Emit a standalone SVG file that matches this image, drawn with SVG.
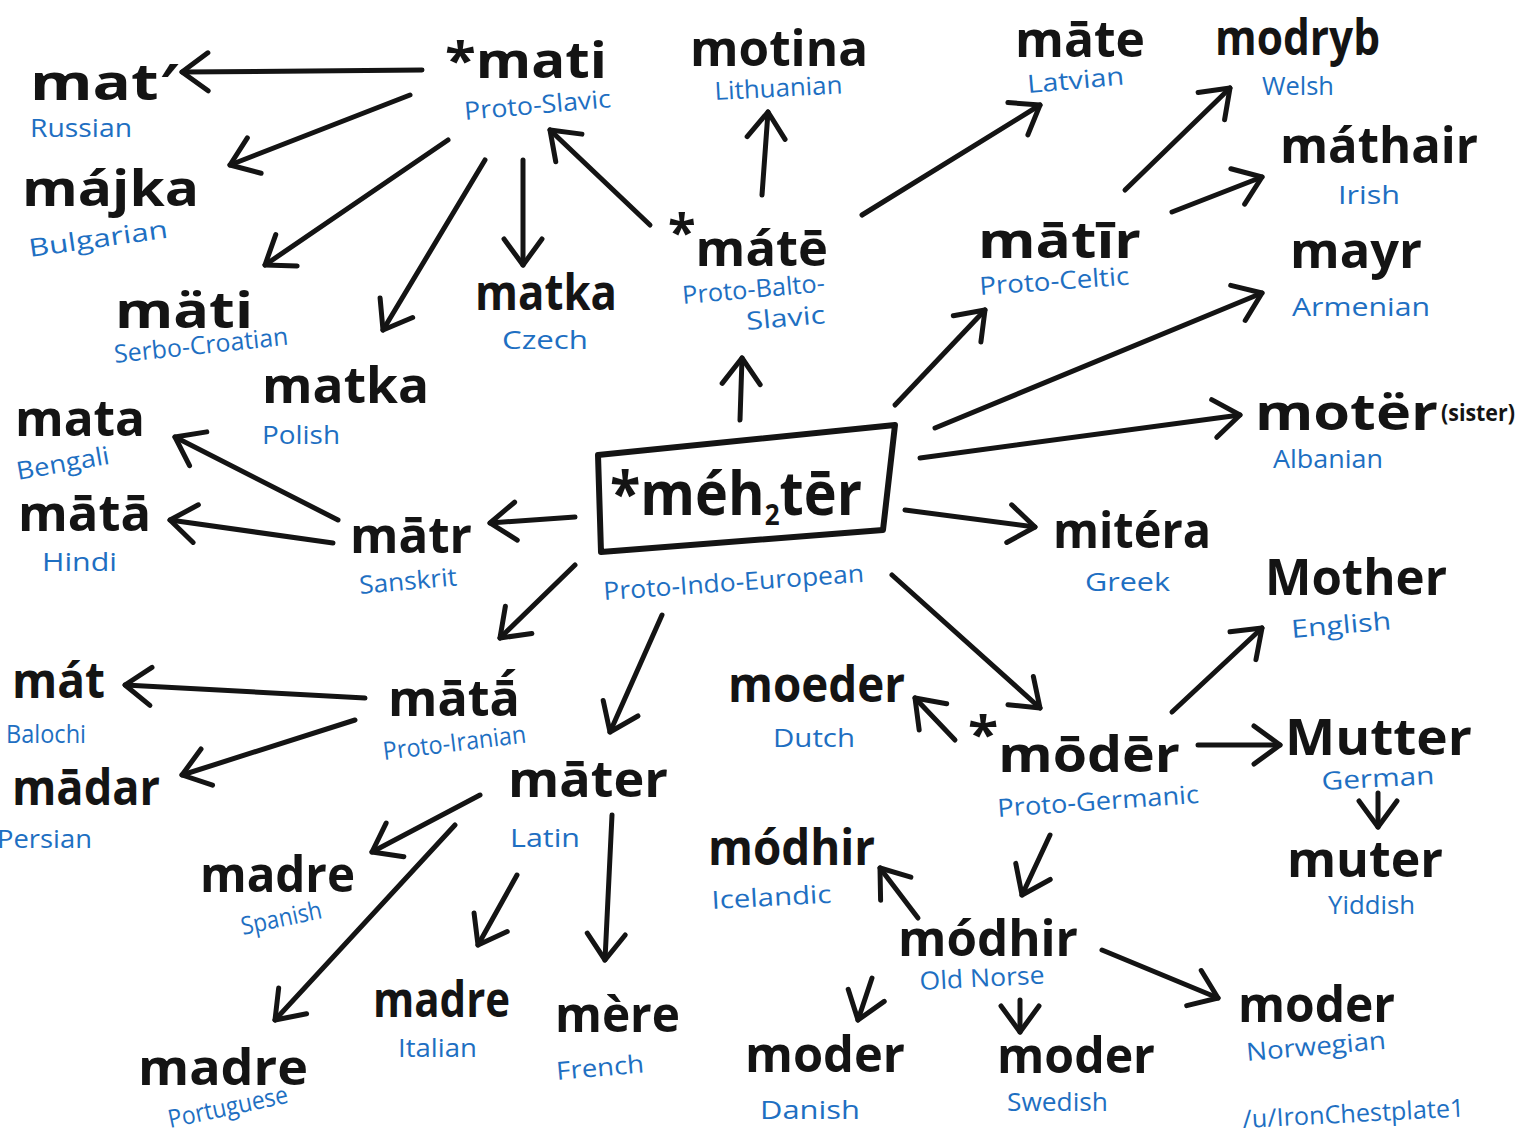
<svg xmlns="http://www.w3.org/2000/svg" width="1524" height="1137" viewBox="0 0 1524 1137">
<defs>
<style>
.w{font-family:"Open Sans","Liberation Sans",sans-serif;font-weight:700;font-size:50px;fill:#141414}
.l{font-family:"Open Sans","Liberation Sans",sans-serif;font-weight:400;font-size:25px;fill:#1e6fc2}
.c{fill:none;stroke:#141414;stroke-width:5;stroke-linecap:round;stroke-linejoin:round}
.box{fill:none;stroke:#141414;stroke-width:6;stroke-linejoin:round}
</style>
<marker id="ah" markerUnits="userSpaceOnUse" markerWidth="44" markerHeight="44" viewBox="0 0 44 44" refX="34" refY="22" orient="auto">
<path d="M8,3 L34,22 L8,41" fill="none" stroke="#141414" stroke-width="5" stroke-linecap="round" stroke-linejoin="round"/>
</marker>
</defs>
<rect width="1524" height="1137" fill="#ffffff"/>

<g id="connectors" class="c" marker-end="url(#ah)">
<line x1="422" y1="70" x2="182" y2="72"/>
<line x1="410" y1="95" x2="230" y2="165"/>
<line x1="448" y1="140" x2="265" y2="265"/>
<line x1="485" y1="160" x2="383" y2="330"/>
<line x1="523" y1="160" x2="523" y2="265"/>
<line x1="650" y1="225" x2="550" y2="130"/>
<line x1="762" y1="195" x2="768" y2="112"/>
<line x1="862" y1="215" x2="1040" y2="105"/>
<line x1="740" y1="420" x2="742" y2="358"/>
<line x1="895" y1="405" x2="985" y2="310"/>
<line x1="1125" y1="190" x2="1230" y2="88"/>
<line x1="1172" y1="212" x2="1262" y2="177"/>
<line x1="935" y1="428" x2="1262" y2="293"/>
<line x1="920" y1="458" x2="1240" y2="415"/>
<line x1="905" y1="510" x2="1035" y2="527"/>
<line x1="575" y1="517" x2="490" y2="523"/>
<line x1="338" y1="520" x2="175" y2="437"/>
<line x1="333" y1="543" x2="170" y2="520"/>
<line x1="575" y1="565" x2="500" y2="638"/>
<line x1="662" y1="615" x2="610" y2="732"/>
<line x1="892" y1="575" x2="1040" y2="708"/>
<line x1="955" y1="740" x2="915" y2="698"/>
<line x1="1172" y1="712" x2="1262" y2="628"/>
<line x1="1198" y1="745" x2="1280" y2="745"/>
<line x1="1378" y1="793" x2="1378" y2="827"/>
<line x1="1050" y1="835" x2="1022" y2="895"/>
<line x1="918" y1="918" x2="880" y2="868"/>
<line x1="872" y1="978" x2="858" y2="1020"/>
<line x1="1020" y1="1000" x2="1020" y2="1032"/>
<line x1="1102" y1="950" x2="1218" y2="998"/>
<line x1="365" y1="698" x2="125" y2="685"/>
<line x1="355" y1="720" x2="182" y2="775"/>
<line x1="480" y1="795" x2="372" y2="852"/>
<line x1="455" y1="825" x2="275" y2="1020"/>
<line x1="517" y1="875" x2="478" y2="945"/>
<line x1="612" y1="815" x2="605" y2="960"/>
</g>

<g id="pie">
<polygon class="box" points="598,455 895,425 883,530 601,552"/>
<text class="w" x="610" y="515" style="font-size:60px" textLength="252" lengthAdjust="spacingAndGlyphs">*méh<tspan style="font-size:28px" dy="10">2</tspan><tspan dy="-10">tēr</tspan></text>
<text class="l" x="604" y="600" textLength="261" lengthAdjust="spacingAndGlyphs" transform="rotate(-4 604 600)">Proto-Indo-European</text>
</g>

<g id="mati"><text class="w" x="445" y="78" textLength="162" lengthAdjust="spacingAndGlyphs">*mati</text><text class="l" x="465" y="120" textLength="147" lengthAdjust="spacingAndGlyphs" transform="rotate(-5 465 120)">Proto-Slavic</text></g>
<g id="mat-russian"><text class="w" x="30" y="100" textLength="148" lengthAdjust="spacingAndGlyphs">mat′</text><text class="l" x="30" y="137" textLength="102" lengthAdjust="spacingAndGlyphs">Russian</text></g>
<g id="majka"><text class="w" x="22" y="206" textLength="177" lengthAdjust="spacingAndGlyphs">májka</text><text class="l" x="30" y="257" textLength="140" lengthAdjust="spacingAndGlyphs" transform="rotate(-8 30 257)">Bulgarian</text></g>
<g id="mati-sc"><text class="w" x="115" y="328" textLength="138" lengthAdjust="spacingAndGlyphs">mäti</text><text class="l" x="115" y="363" textLength="175" lengthAdjust="spacingAndGlyphs" transform="rotate(-6 115 363)">Serbo-Croatian</text></g>
<g id="matka-czech"><text class="w" x="475" y="310" textLength="142" lengthAdjust="spacingAndGlyphs">matka</text><text class="l" x="502" y="349" textLength="86" lengthAdjust="spacingAndGlyphs">Czech</text></g>
<g id="matka-polish"><text class="w" x="262" y="403" textLength="167" lengthAdjust="spacingAndGlyphs">matka</text><text class="l" x="262" y="444" textLength="78" lengthAdjust="spacingAndGlyphs">Polish</text></g>
<g id="mate-pbs"><text class="w" x="668" y="266" textLength="160" lengthAdjust="spacingAndGlyphs"><tspan dy="-16">*</tspan><tspan dy="16">mátē</tspan></text><text class="l" x="683" y="304" textLength="143" lengthAdjust="spacingAndGlyphs" transform="rotate(-5 683 304)">Proto-Balto-</text><text class="l" x="747" y="330" textLength="79" lengthAdjust="spacingAndGlyphs" transform="rotate(-5 747 330)">Slavic</text></g>
<g id="motina"><text class="w" x="690" y="66" textLength="178" lengthAdjust="spacingAndGlyphs">motina</text><text class="l" x="715" y="100" textLength="128" lengthAdjust="spacingAndGlyphs" transform="rotate(-3 715 100)">Lithuanian</text></g>
<g id="mate-latvian"><text class="w" x="1015" y="57" textLength="130" lengthAdjust="spacingAndGlyphs">māte</text><text class="l" x="1028" y="93" textLength="97" lengthAdjust="spacingAndGlyphs" transform="rotate(-5 1028 93)">Latvian</text></g>
<g id="modryb"><text class="w" x="1215" y="55" textLength="165" lengthAdjust="spacingAndGlyphs">modryb</text><text class="l" x="1262" y="95" textLength="72" lengthAdjust="spacingAndGlyphs">Welsh</text></g>
<g id="mathair"><text class="w" x="1280" y="163" textLength="198" lengthAdjust="spacingAndGlyphs">máthair</text><text class="l" x="1338" y="204" textLength="62" lengthAdjust="spacingAndGlyphs">Irish</text></g>
<g id="matir"><text class="w" x="978" y="258" textLength="163" lengthAdjust="spacingAndGlyphs">mātīr</text><text class="l" x="980" y="295" textLength="150" lengthAdjust="spacingAndGlyphs" transform="rotate(-4 980 295)">Proto-Celtic</text></g>
<g id="mayr"><text class="w" x="1290" y="268" textLength="132" lengthAdjust="spacingAndGlyphs">mayr</text><text class="l" x="1292" y="316" textLength="138" lengthAdjust="spacingAndGlyphs">Armenian</text></g>
<g id="moter"><text class="w" x="1255" y="430" textLength="183" lengthAdjust="spacingAndGlyphs">motër</text><text class="w" x="1441" y="421" style="font-size:24px" textLength="74" lengthAdjust="spacingAndGlyphs">(sister)</text><text class="l" x="1273" y="468" textLength="110" lengthAdjust="spacingAndGlyphs">Albanian</text></g>
<g id="mitera"><text class="w" x="1053" y="548" textLength="158" lengthAdjust="spacingAndGlyphs">mitéra</text><text class="l" x="1085" y="591" textLength="85" lengthAdjust="spacingAndGlyphs">Greek</text></g>
<g id="mata-bengali"><text class="w" x="15" y="436" textLength="130" lengthAdjust="spacingAndGlyphs">mata</text><text class="l" x="18" y="480" textLength="94" lengthAdjust="spacingAndGlyphs" transform="rotate(-10 18 480)">Bengali</text></g>
<g id="mata-hindi"><text class="w" x="18" y="531" textLength="133" lengthAdjust="spacingAndGlyphs">mātā</text><text class="l" x="42" y="571" textLength="75" lengthAdjust="spacingAndGlyphs">Hindi</text></g>
<g id="matr"><text class="w" x="350" y="553" textLength="122" lengthAdjust="spacingAndGlyphs">mātr</text><text class="l" x="360" y="594" textLength="98" lengthAdjust="spacingAndGlyphs" transform="rotate(-5 360 594)">Sanskrit</text></g>
<g id="mata-iranian"><text class="w" x="388" y="716" textLength="132" lengthAdjust="spacingAndGlyphs">mātā́</text><text class="l" x="384" y="760" textLength="144" lengthAdjust="spacingAndGlyphs" transform="rotate(-7 384 760)">Proto-Iranian</text></g>
<g id="mat-balochi"><text class="w" x="12" y="698" textLength="93" lengthAdjust="spacingAndGlyphs">mát</text><text class="l" x="6" y="743" textLength="80" lengthAdjust="spacingAndGlyphs">Balochi</text></g>
<g id="madar"><text class="w" x="12" y="805" textLength="148" lengthAdjust="spacingAndGlyphs">mādar</text><text class="l" x="-3" y="848" textLength="95" lengthAdjust="spacingAndGlyphs">Persian</text></g>
<g id="mater"><text class="w" x="508" y="797" textLength="160" lengthAdjust="spacingAndGlyphs">māter</text><text class="l" x="510" y="847" textLength="70" lengthAdjust="spacingAndGlyphs">Latin</text></g>
<g id="madre-spanish"><text class="w" x="200" y="892" textLength="155" lengthAdjust="spacingAndGlyphs">madre</text><text class="l" x="243" y="935" textLength="82" lengthAdjust="spacingAndGlyphs" transform="rotate(-12 243 935)">Spanish</text></g>
<g id="madre-italian"><text class="w" x="373" y="1017" textLength="137" lengthAdjust="spacingAndGlyphs">madre</text><text class="l" x="398" y="1057" textLength="79" lengthAdjust="spacingAndGlyphs">Italian</text></g>
<g id="mere"><text class="w" x="555" y="1032" textLength="125" lengthAdjust="spacingAndGlyphs">mère</text><text class="l" x="557" y="1080" textLength="88" lengthAdjust="spacingAndGlyphs" transform="rotate(-5 557 1080)">French</text></g>
<g id="madre-portuguese"><text class="w" x="138" y="1085" textLength="170" lengthAdjust="spacingAndGlyphs">madre</text><text class="l" x="170" y="1128" textLength="122" lengthAdjust="spacingAndGlyphs" transform="rotate(-12 170 1128)">Portuguese</text></g>
<g id="moeder"><text class="w" x="728" y="702" textLength="177" lengthAdjust="spacingAndGlyphs">moeder</text><text class="l" x="773" y="747" textLength="82" lengthAdjust="spacingAndGlyphs">Dutch</text></g>
<g id="moder-pg"><text class="w" x="968" y="772" textLength="212" lengthAdjust="spacingAndGlyphs"><tspan dy="-20">*</tspan><tspan dy="20">mōdēr</tspan></text><text class="l" x="998" y="817" textLength="202" lengthAdjust="spacingAndGlyphs" transform="rotate(-4 998 817)">Proto-Germanic</text></g>
<g id="mother"><text class="w" x="1265" y="595" textLength="182" lengthAdjust="spacingAndGlyphs">Mother</text><text class="l" x="1292" y="638" textLength="100" lengthAdjust="spacingAndGlyphs" transform="rotate(-5 1292 638)">English</text></g>
<g id="mutter"><text class="w" x="1285" y="755" textLength="187" lengthAdjust="spacingAndGlyphs">Mutter</text><text class="l" x="1322" y="790" textLength="113" lengthAdjust="spacingAndGlyphs" transform="rotate(-3 1322 790)">German</text></g>
<g id="muter"><text class="w" x="1287" y="877" textLength="156" lengthAdjust="spacingAndGlyphs">muter</text><text class="l" x="1328" y="914" textLength="87" lengthAdjust="spacingAndGlyphs">Yiddish</text></g>
<g id="modhir-icelandic"><text class="w" x="708" y="865" textLength="167" lengthAdjust="spacingAndGlyphs">módhir</text><text class="l" x="712" y="909" textLength="120" lengthAdjust="spacingAndGlyphs" transform="rotate(-3 712 909)">Icelandic</text></g>
<g id="modhir-oldnorse"><text class="w" x="898" y="956" textLength="180" lengthAdjust="spacingAndGlyphs">módhir</text><text class="l" x="920" y="990" textLength="125" lengthAdjust="spacingAndGlyphs" transform="rotate(-3 920 990)">Old Norse</text></g>
<g id="moder-danish"><text class="w" x="745" y="1072" textLength="160" lengthAdjust="spacingAndGlyphs">moder</text><text class="l" x="760" y="1119" textLength="100" lengthAdjust="spacingAndGlyphs">Danish</text></g>
<g id="moder-swedish"><text class="w" x="997" y="1073" textLength="158" lengthAdjust="spacingAndGlyphs">moder</text><text class="l" x="1007" y="1111" textLength="101" lengthAdjust="spacingAndGlyphs">Swedish</text></g>
<g id="moder-norwegian"><text class="w" x="1238" y="1022" textLength="157" lengthAdjust="spacingAndGlyphs">moder</text><text class="l" x="1247" y="1061" textLength="140" lengthAdjust="spacingAndGlyphs" transform="rotate(-5 1247 1061)">Norwegian</text></g>
<g id="credit"><text class="l" x="1243" y="1128" textLength="222" lengthAdjust="spacingAndGlyphs" transform="rotate(-3 1243 1128)">/u/IronChestplate1</text></g>
</svg>
